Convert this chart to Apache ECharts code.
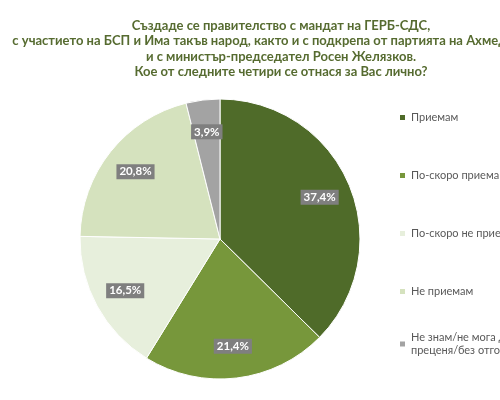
<!DOCTYPE html>
<html>
<head>
<meta charset="utf-8">
<script src="https://cdn.jsdelivr.net/npm/echarts@6/dist/echarts.min.js"></script>
<style>
  html, body { margin: 0; padding: 0; background: #fff; }
  #chart { width: 500px; height: 400px; }
</style>
</head>
<body>
<div id="chart"></div>
<script>
// данни
var categories = ['Приемам', 'По-скоро приемам', 'По-скоро не приемам', 'Не приемам', 'Не знам/не мога да\nпреценя/без отговор']
var values = [37.4, 21.4, 16.5, 20.8, 3.9]
var colors = ['#4f6b29', '#77973b', '#e7efdc', '#d5e2be', '#a3a3a3']

var titleLines = [
  'Създаде се правителство с мандат на ГЕРБ-СДС,',
  'с участието на БСП и Има такъв народ, както и с подкрепа от партията на Ахмед Доган,',
  'и с министър-председател Росен Желязков.',
  'Кое от следните четири се отнася за Вас лично?'
]

var pieData = categories.map(function (name, i) {
  return { name: name, value: values[i], itemStyle: { color: colors[i] } }
})

var legendText = { fontFamily: 'Lato', fontSize: 11, color: '#595959', lineHeight: 13 }

var chart = echarts.init(document.getElementById('chart'))
chart.setOption({
  backgroundColor: '#ffffff',
  animation: false,
  title: {
    text: titleLines.join('\n'),
    left: 276,
    top: 13,
    textAlign: 'center',
    textStyle: {
      fontFamily: 'Lato',
      fontWeight: 'bold',
      fontSize: 13,
      lineHeight: 15.5,
      color: '#566b30'
    }
  },
  legend: [
    {
      orient: 'vertical',
      left: 393,
      top: 106,
      itemWidth: 7,
      itemHeight: 7,
      itemGap: 45,
      icon: 'rect',
      data: categories.slice(0, 4),
      textStyle: legendText
    },
    {
      orient: 'vertical',
      left: 393,
      top: 326,
      itemWidth: 7,
      itemHeight: 7,
      icon: 'rect',
      data: categories.slice(4),
      textStyle: legendText
    }
  ],
  series: [
    {
      type: 'pie',
      center: [220, 239],
      radius: [0, 140],
      startAngle: 90,
      clockwise: true,
      silent: true,
      itemStyle: { borderColor: '#ffffff', borderWidth: 1 },
      label: { show: false },
      labelLine: { show: false },
      data: pieData
    },
    {
      // прозрачен слой само за етикетите
      type: 'pie',
      center: [220, 239],
      radius: [60, 150],
      startAngle: 90,
      clockwise: true,
      silent: true,
      legendHoverLink: false,
      itemStyle: { color: 'transparent', borderWidth: 0 },
      label: {
        show: true,
        position: 'inside',
        formatter: function (p) { return p.value.toFixed(1).replace('.', ',') + '%' },
        backgroundColor: '#7f7f7f',
        padding: [2, 3, 1, 3],
        color: '#ffffff',
        fontFamily: 'Lato',
        fontWeight: 'bold',
        fontSize: 11.5
      },
      labelLine: { show: false },
      data: values.map(function (v, i) { return { name: categories[i] + ' ', value: v } })
    }
  ]
})
</script>
</body>
</html>
